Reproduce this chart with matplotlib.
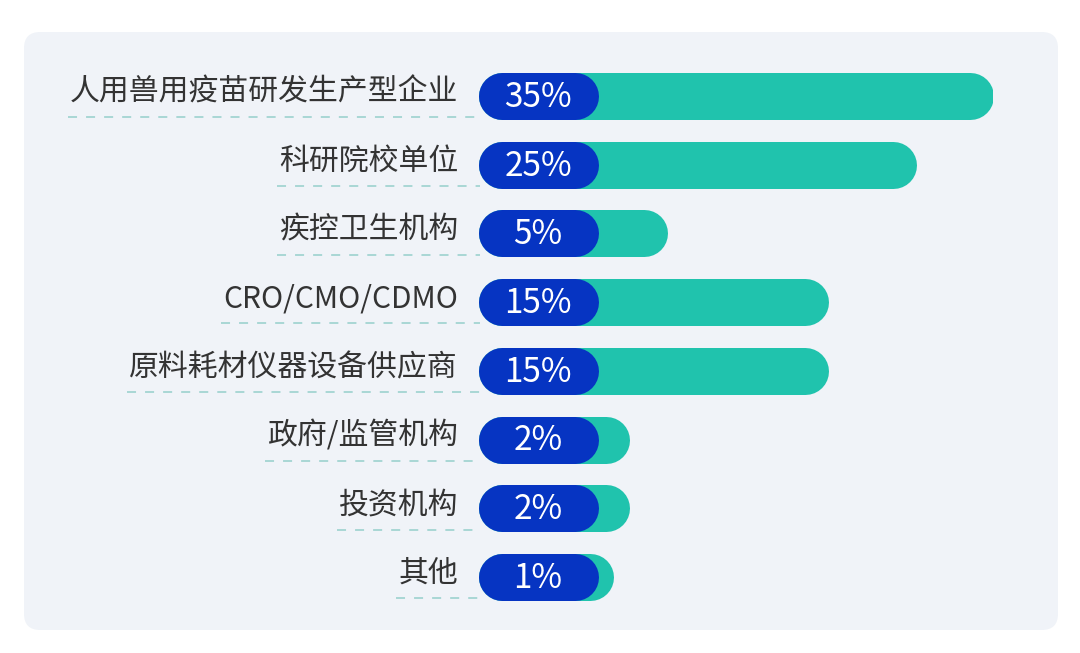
import matplotlib.pyplot as plt
from matplotlib.patches import FancyBboxPatch

plt.rcParams['font.family'] = ['Noto Sans CJK SC', 'DejaVu Sans']

# 数据
labels = ['人用兽用疫苗研发生产型企业', '科研院校单位', '疾控卫生机构', 'CRO/CMO/CDMO',
          '原料耗材仪器设备供应商', '政府/监管机构', '投资机构', '其他']
shares = [35, 25, 5, 15, 15, 2, 2, 1]
# 图中条形的相对长度(最长=100),与百分比不成线性
bar_lengths = [100, 85.2, 36.7, 68.0, 68.0, 29.5, 29.5, 26.4]

teal = '#20c3ad'
blue = '#0634c2'
panel = '#f0f3f8'
text_c = '#333333'
dash_c = '#a3d4d2'

W, H, DPI = 1080, 653, 100
fig = plt.figure(figsize=(W / DPI, H / DPI), dpi=DPI)
fig.patch.set_facecolor('white')

# 圆角底板
bg = FancyBboxPatch((24 / W, 1 - 630 / H), 1034 / W, 598 / H,
                    boxstyle='round,pad=0,rounding_size=0.015',
                    transform=fig.transFigure, facecolor=panel, edgecolor='none',
                    mutation_aspect=W / H, zorder=-1)
fig.add_artist(bg)

ax_left, ax_w = 478 / W, 515 / W
row_top, row_bot = 61.6, 611.4
ax = fig.add_axes([ax_left, 1 - row_bot / H, ax_w, (row_bot - row_top) / H])
ax.set_xlim(0, 100)
ax.set_ylim(len(labels) - 0.5, -0.5)
ax.axis('off')

px = 100 / 515          # 每像素对应的数据单位
bar_h = 47              # 条形高度(像素)
lw = bar_h * 72 / DPI
r = bar_h / 2 * px
pill = 120 * px

for i, (lab, s, L) in enumerate(zip(labels, shares, bar_lengths)):
    ax.plot([r, L - r], [i, i], color=teal, lw=lw, solid_capstyle='round', zorder=2)
    ax.plot([r, pill - r], [i, i], color=blue, lw=lw, solid_capstyle='round', zorder=3)
    ax.text(pill / 2, i + 0.02, f'{s}%', color='white', fontsize=24,
            ha='center', va='center', zorder=4)

fig.canvas.draw()
renderer = fig.canvas.get_renderer()
inv = ax.transData.inverted()
for i, lab in enumerate(labels):
    t = ax.text(-20 * px, i - 0.05, lab, color=text_c, fontsize=21.5,
                fontweight='light', ha='right', va='center', zorder=4)
    bb = t.get_window_extent(renderer)
    x0 = inv.transform((bb.x0, 0))[0] - 2 * px
    ax.plot([x0, 2 * px], [i + 0.31, i + 0.31], color=dash_c, lw=1.3,
            dashes=(5, 5), clip_on=False, zorder=1)

fig.savefig('out.png', dpi=DPI, facecolor='white')
